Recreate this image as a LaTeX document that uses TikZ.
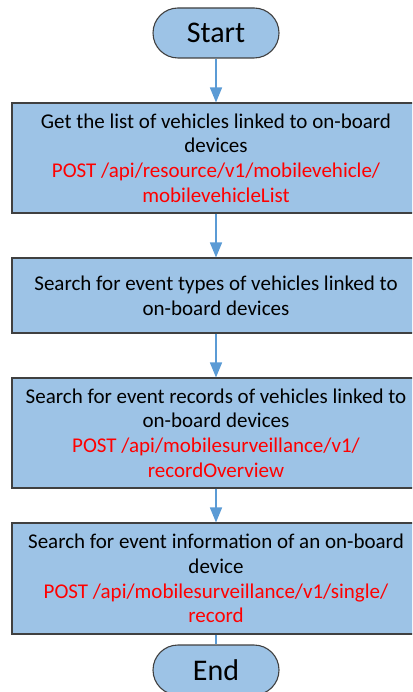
\documentclass[tikz,border=0pt]{standalone}
\usepackage{fontspec}
\setmainfont{Carlito}
\usetikzlibrary{arrows.meta}
\definecolor{boxfill}{HTML}{9DC3E6}
\definecolor{boxline}{HTML}{404040}
\definecolor{flow}{HTML}{5B9BD5}
\definecolor{apired}{HTML}{FF0000}
\tikzset{
  stepbox/.style={draw=boxline, fill=boxfill, line width=1.1pt, minimum width=408pt,
    inner sep=0pt, align=center, font=\fontsize{21}{24.7}\selectfont},
  terminal/.style={draw=boxline, fill=boxfill, line width=1.1pt, minimum width=126pt,
    minimum height=50pt, rounded corners=25pt, inner sep=0pt, font=\fontsize{30}{34}\selectfont},
  flowarrow/.style={draw=flow, line width=1.6pt, -{Triangle[length=15pt,width=12pt]}},
  flowline/.style={draw=flow, line width=1.6pt}
}
\begin{document}
\begin{tikzpicture}[x=1pt,y=-1pt]
\useasboundingbox (0,0) rectangle (412,692);
\clip (0,0) rectangle (412,692);
\node[terminal] (start) at (216,33) {Start};
\node[stepbox, minimum height=110pt] (b1) at (216,158)
  {Get the list of vehicles linked to on-board\\ devices\\
   \textcolor{apired}{POST /api/resource/v1/mobilevehicle/}\\
   \textcolor{apired}{mobilevehicleList}};
\node[stepbox, minimum height=75pt] (b2) at (216,295.5)
  {Search for event types of vehicles linked to\\ on-board devices};
\node[stepbox, minimum height=110pt] (b3) at (216,433)
  {Search for event records of vehicles linked to\\ on-board devices\\
   \textcolor{apired}{POST /api/mobilesurveillance/v1/}\\
   \textcolor{apired}{recordOverview}};
\node[stepbox, minimum height=111pt] (b4) at (216,578.5)
  {Search for event information of an on-board\\ device\\
   \textcolor{apired}{POST /api/mobilesurveillance/v1/single/}\\
   \textcolor{apired}{record}};
\node[terminal] (stop) at (216,670) {End};
\draw[flowarrow] (start.south) -- (b1.north);
\draw[flowarrow] (b1.south) -- (b2.north);
\draw[flowarrow] (b2.south) -- (b3.north);
\draw[flowarrow] (b3.south) -- (b4.north);
\draw[flowline] (b4.south) -- (stop.north);
\end{tikzpicture}
\end{document}
